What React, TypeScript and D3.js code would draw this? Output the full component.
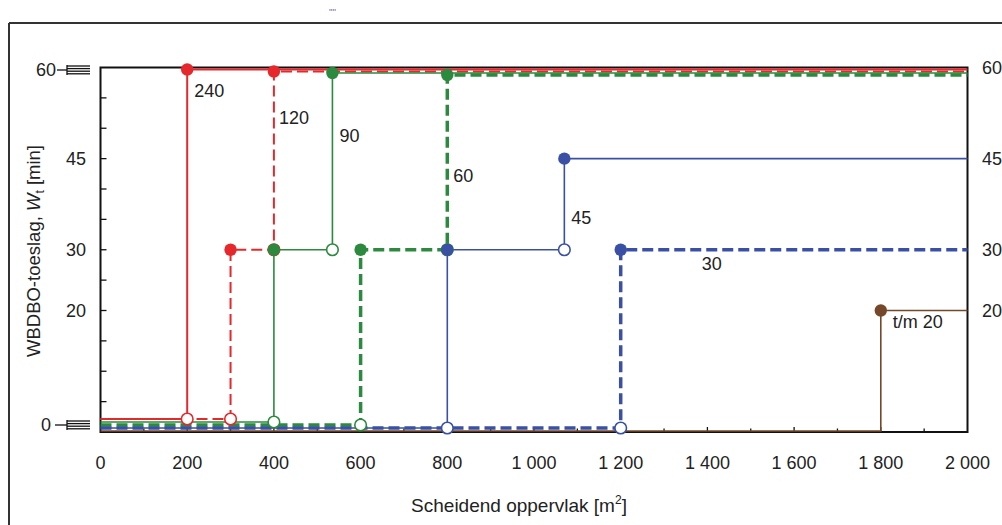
import React from "react";
import * as d3 from "d3";

// ---- data ----
const seriesNames = ["240", "120", "90", "60", "45", "30", "t/m 20"];
const stepXs: number[][] = [[200], [300, 400], [400, 535], [600, 800], [800, 1070], [1200], [1800]];
const stepLevels: number[][] = [[0, 60], [0, 30, 60], [0, 30, 60], [0, 30, 60], [0, 30, 45], [0, 30], [0, 20]];
const labelValues = [55.1, 50.7, 47.7, 41.2, 34.2, 26.7, 17.1];
const xTickValues = [0, 200, 400, 600, 800, 1000, 1200, 1400, 1600, 1800, 2000];
const yMidTickLabels = [45, 30, 20];
const yRightTickLabels = [60, 45, 30, 20];
const xDomain = [0, 2000];
const yDomain = [0, 60];

// ---- styles ----
const RED = "#e6282c";
const GREEN = "#2b8a3e";
const BLUE = "#3a50a5";
const BROWN = "#75482a";
const seriesStyles = [
  { color: RED, width: 2, dash: "", off0: -13, off60: 2, showOpen: true, ldx: 7 },
  { color: RED, width: 2, dash: "11,5", off0: -13, off60: 4, showOpen: true, ldx: 5 },
  { color: GREEN, width: 1.6, dash: "", off0: -10, off60: 5.5, showOpen: true, ldx: 7 },
  { color: GREEN, width: 3.5, dash: "11,5", off0: -7, off60: 7.5, showOpen: true, ldx: 6 },
  { color: BLUE, width: 1.6, dash: "", off0: -4, off60: 0, showOpen: true, ldx: 7 },
  { color: BLUE, width: 3.5, dash: "11,5", off0: -4, off60: 0, showOpen: true, ldx: 81 },
  { color: BROWN, width: 1.6, dash: "", off0: -1, off60: 0, showOpen: false, ldx: 12 },
];

const W = 1002;
const H = 525;
const FONT = "'Liberation Sans', Arial, Helvetica, sans-serif";
const TXT = "#222";

const xScale = d3.scaleLinear().domain(xDomain).range([100.5, 967.5]);
const yScale = d3.scaleLinear().domain(yDomain).range([432, 67.5]);
const fmt = d3.formatLocale({ decimal: ",", thousands: " ", grouping: [3], currency: ["", ""] }).format(",d");

export default function App() {
  const x0 = xScale(xDomain[0]);
  const x1 = xScale(xDomain[1]);
  const yTop = yScale(yDomain[1]);
  const yBot = yScale(yDomain[0]);

  const series = seriesNames.map((name, i) => {
    const st = seriesStyles[i];
    const xs = stepXs[i];
    const lv = stepLevels[i];
    const py = (v: number) => yScale(v) + (v === 0 ? st.off0 : v === 60 ? st.off60 : 0);
    const pts: [number, number][] = [[xScale(xDomain[0]), py(lv[0])]];
    xs.forEach((sx, j) => {
      pts.push([xScale(sx), py(lv[j])]);
      pts.push([xScale(sx), py(lv[j + 1])]);
    });
    pts.push([xScale(xDomain[1]), py(lv[lv.length - 1])]);
    const path = d3.line()(pts) || "";
    const open = st.showOpen ? xs.map((sx, j) => [xScale(sx), py(lv[j])]) : [];
    const filled = xs.map((sx, j) => [xScale(sx), py(lv[j + 1])]);
    const lastX = xScale(xs[xs.length - 1]);
    return { name, st, path, open, filled, lx: lastX + st.ldx, ly: yScale(labelValues[i]) };
  });

  const minorX = d3.range(100, 2000, 100);
  const minorY = d3.range(5, 60, 5);

  const sym = (cy: number, dashX0: number) => (
    <g stroke="#111" strokeWidth={1.3}>
      <line x1={dashX0} x2={67} y1={cy} y2={cy} />
      <line x1={67} x2={67} y1={cy - 5} y2={cy + 5} />
      {[-4, -1.4, 1.2, 3.8].map((d, k) => (
        <line key={k} x1={67} x2={90} y1={cy + d} y2={cy + d} />
      ))}
    </g>
  );

  return (
    <svg width={W} height={H} style={{ position: "absolute", left: 0, top: 0, background: "#fff" }} fontFamily={FONT}>
      <rect x={0} y={0} width={W} height={H} fill="#fff" />
      {/* outer frame */}
      <line x1={9} x2={W} y1={23} y2={23} stroke="#333" strokeWidth={2} />
      <line x1={9} x2={9} y1={23} y2={H} stroke="#333" strokeWidth={2} />
      <text x={329} y={15} fontSize={9} fill="#6a5a9a">''''</text>

      {/* plot frame */}
      <rect x={x0} y={yTop} width={x1 - x0} height={yBot - yTop} fill="none" stroke="#111" strokeWidth={2} />
      {minorX.map((v) => (
        <line key={"mx" + v} x1={xScale(v)} x2={xScale(v)} y1={yBot} y2={yBot - (v % 200 === 0 ? 5 : 3.5)} stroke="#111" strokeWidth={1.3} />
      ))}
      {minorY.map((v) => (
        <line key={"my" + v} x1={x0} x2={x0 + 6} y1={yScale(v)} y2={yScale(v)} stroke="#111" strokeWidth={1.3} />
      ))}

      {/* series lines */}
      {series.map((s, i) => (
        <path key={"p" + i} d={s.path} fill="none" stroke={s.st.color} strokeWidth={s.st.width} strokeDasharray={s.st.dash || undefined} />
      ))}
      {/* markers */}
      {series.map((s, i) => (
        <g key={"m" + i}>
          {s.open.map((p, k) => (
            <circle key={"o" + k} cx={p[0]} cy={p[1]} r={5.8} fill="#fff" stroke={s.st.color} strokeWidth={1.6} />
          ))}
          {s.filled.map((p, k) => (
            <circle key={"f" + k} cx={p[0]} cy={p[1]} r={6.2} fill={s.st.color} />
          ))}
        </g>
      ))}
      {/* series labels */}
      {series.map((s, i) => (
        <text key={"l" + i} x={s.lx} y={s.ly} fontSize={18} fill={TXT}>{s.name}</text>
      ))}

      {/* x tick labels */}
      {xTickValues.map((v) => (
        <text key={"xt" + v} x={xScale(v)} y={469} fontSize={18} fill={TXT} textAnchor="middle">{fmt(v)}</text>
      ))}
      {/* left labels */}
      {yMidTickLabels.map((v) => (
        <text key={"yl" + v} x={86} y={yScale(v)} dy="0.35em" fontSize={18} fill={TXT} textAnchor="end">{v}</text>
      ))}
      <text x={56} y={yScale(60) + 2.5} dy="0.35em" fontSize={18} fill={TXT} textAnchor="end">{yDomain[1]}</text>
      <text x={51} y={yScale(0) - 7} dy="0.35em" fontSize={18} fill={TXT} textAnchor="end">{yDomain[0]}</text>
      {sym(yScale(60) + 2.5, 57)}
      {sym(yScale(0) - 7, 55)}
      {/* right labels */}
      {yRightTickLabels.map((v) => (
        <text key={"yr" + v} x={982} y={yScale(v)} dy="0.35em" fontSize={18} fill={TXT}>{v}</text>
      ))}

      {/* axis titles */}
      <text x={519} y={512} fontSize={19} fill={TXT} textAnchor="middle">
        Scheidend oppervlak [m<tspan dy={-8} fontSize={12}>2</tspan><tspan dy={8}>]</tspan>
      </text>
      <text transform="translate(40,251) rotate(-90)" fontSize={18.5} fill={TXT} textAnchor="middle">
        WBDBO-toeslag, <tspan fontStyle="italic">W</tspan><tspan dy={4} fontSize={12}>t</tspan><tspan dy={-4}> [min]</tspan>
      </text>
    </svg>
  );
}
